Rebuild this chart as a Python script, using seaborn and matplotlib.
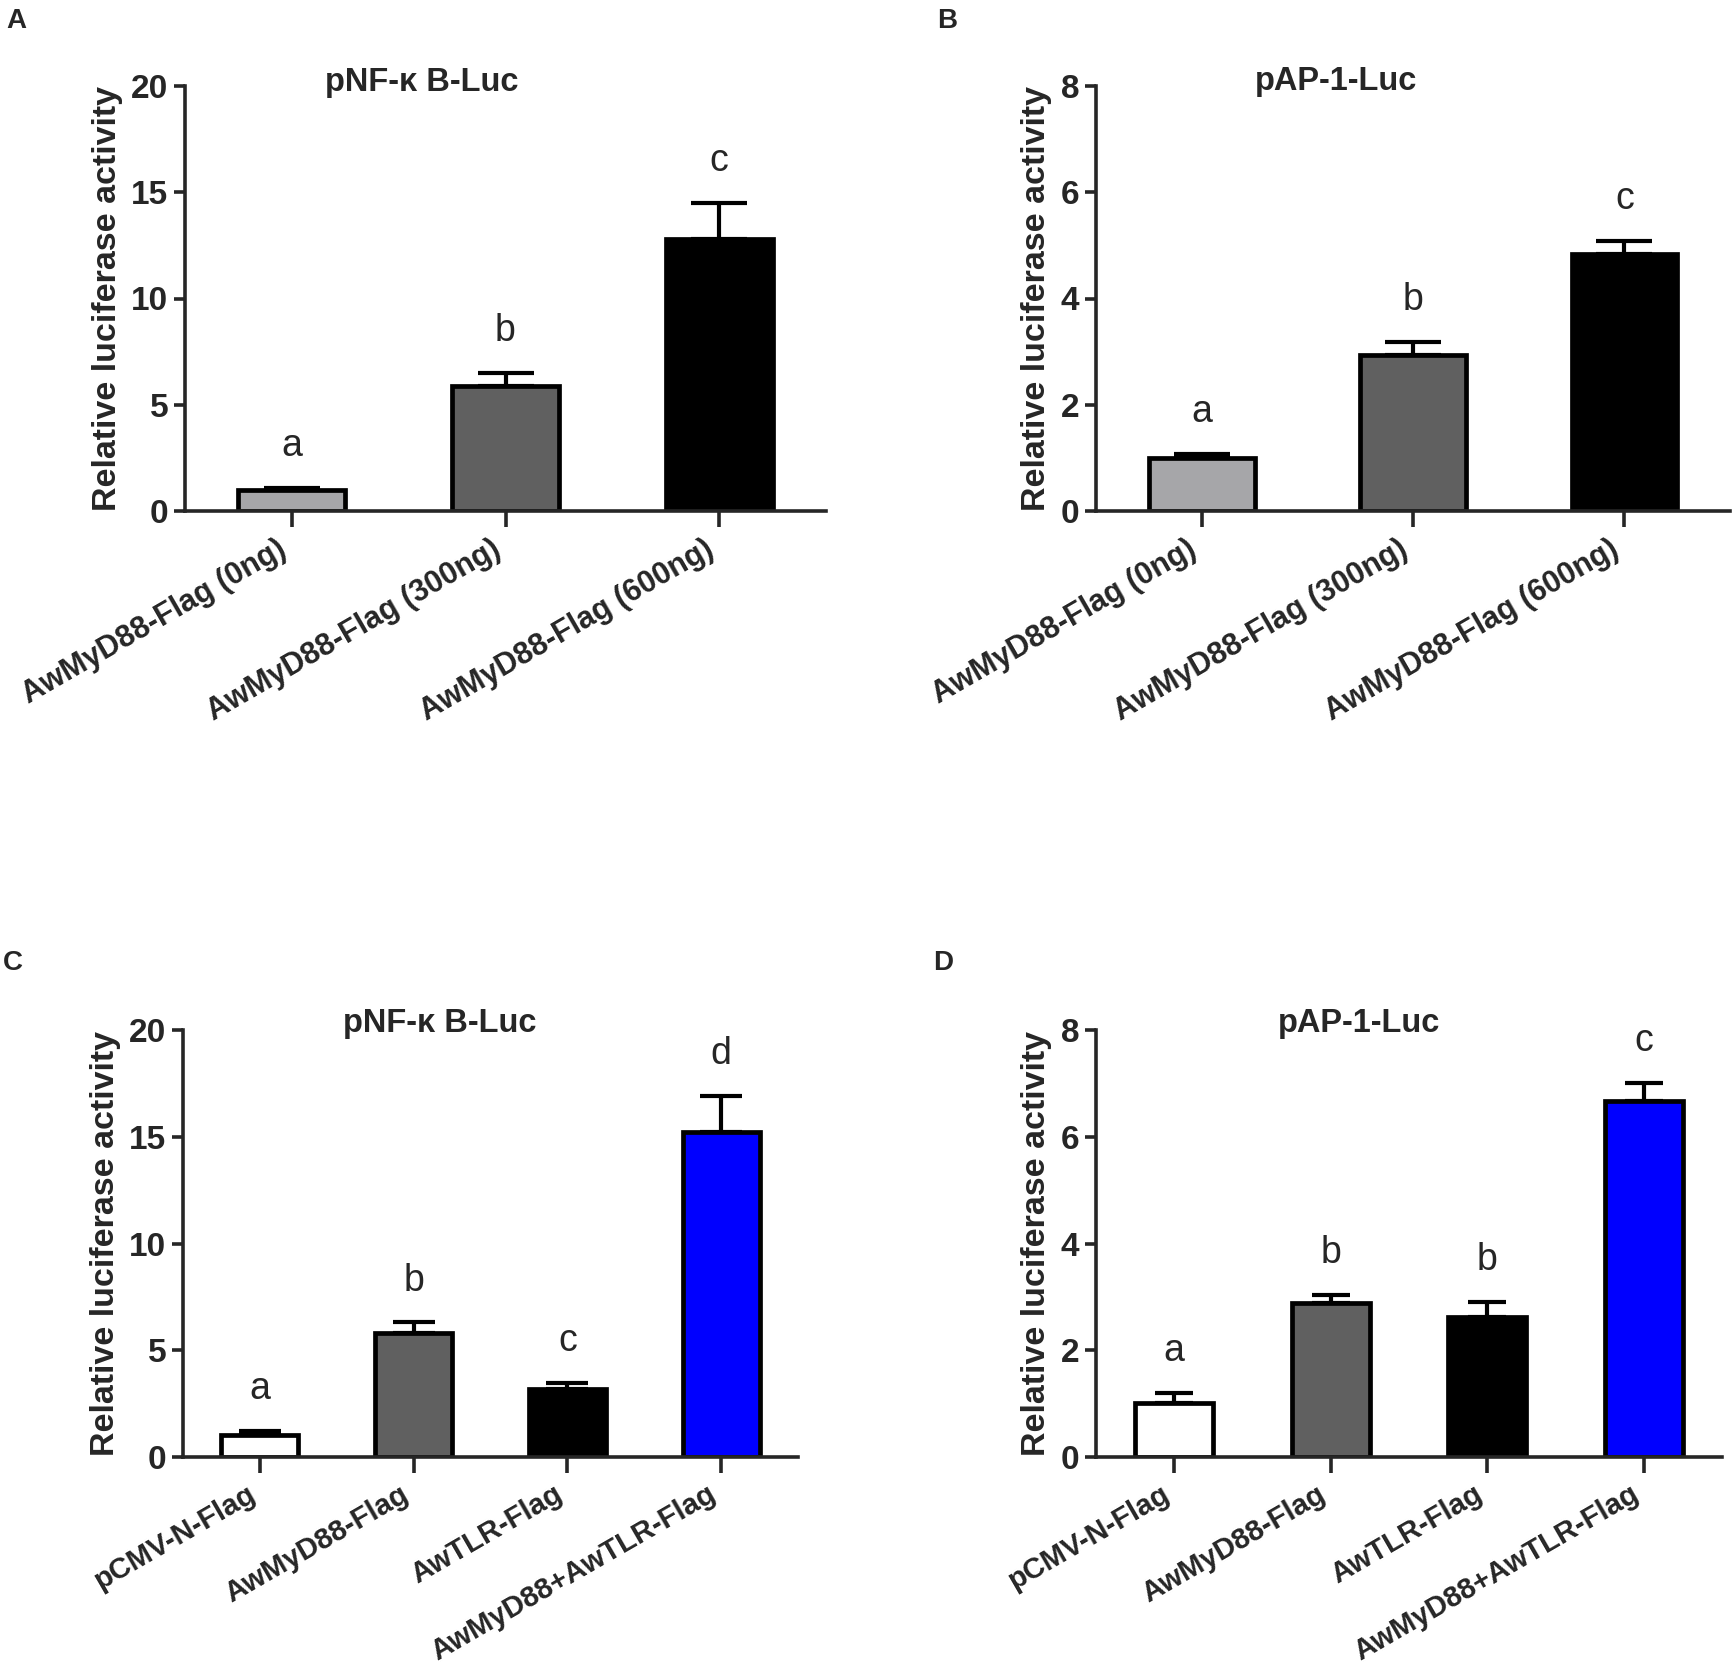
import matplotlib
matplotlib.use("Agg")
import matplotlib.pyplot as plt
import seaborn as sns
import pandas as pd

sns.set_style("ticks")
plt.rcParams['font.family'] = ['Liberation Sans', 'DejaVu Sans']

# ---------------- data ----------------
cats_top = ["AwMyD88-Flag (0ng)", "AwMyD88-Flag (300ng)", "AwMyD88-Flag (600ng)"]
cats_bot = ["pCMV-N-Flag", "AwMyD88-Flag", "AwTLR-Flag", "AwMyD88+AwTLR-Flag"]

a_mean = [1.0, 5.9, 12.8]
a_err = [0.1, 0.6, 1.7]
a_sig = ["a", "b", "c"]

b_mean = [1.0, 2.93, 4.84]
b_err = [0.08, 0.26, 0.24]
b_sig = ["a", "b", "c"]

c_mean = [1.04, 5.8, 3.2, 15.2]
c_err = [0.18, 0.5, 0.28, 1.7]
c_sig = ["a", "b", "c", "d"]

d_mean = [1.02, 2.88, 2.63, 6.67]
d_err = [0.18, 0.15, 0.28, 0.33]
d_sig = ["a", "b", "b", "c"]

titles = ["pNF-\u03ba B-Luc", "pAP-1-Luc", "pNF-\u03ba B-Luc", "pAP-1-Luc"]
panel_letters = ["A", "B", "C", "D"]
ylims = [20, 8, 20, 8]
yticks = [[0, 5, 10, 15, 20], [0, 2, 4, 6, 8], [0, 5, 10, 15, 20], [0, 2, 4, 6, 8]]

colors_top = ["#A6A6A9", "#606060", "#000000"]
colors_bot = ["#FFFFFF", "#606060", "#000000", "#0000FF"]

W, H = 1736, 1677
fig = plt.figure(figsize=(W / 100, H / 100), dpi=100)
fig.patch.set_facecolor("white")

def frac(l, r, t, b):
    return [l / W, 1 - b / H, (r - l) / W, (b - t) / H]

rects = [frac(185, 826, 86, 511), frac(1096, 1730, 86, 511),
         frac(183, 798, 1030, 1457), frac(1096, 1722, 1030, 1457)]
panel_pos = [(6, 8), (937, 8), (3, 950), (933, 950)]
title_x = [0.37, 0.378, 0.418, 0.42]
title_y = [1.008, 1.01, 1.016, 1.016]
rot = [30, 30, 30, 30]
xfs = [22, 22, 21, 21]
capsizes = [20, 20, 15, 14]

datasets = [
    (cats_top, a_mean, a_err, a_sig, colors_top),
    (cats_top, b_mean, b_err, b_sig, colors_top),
    (cats_bot, c_mean, c_err, c_sig, colors_bot),
    (cats_bot, d_mean, d_err, d_sig, colors_bot),
]

for i, (cats, means, errs, sigs, cols) in enumerate(datasets):
    ax = fig.add_axes(rects[i])
    df = pd.DataFrame({"cat": cats, "val": means})
    sns.barplot(data=df, x="cat", y="val", hue="cat", palette=cols, legend=False,
                saturation=1, width=0.5, edgecolor="black", linewidth=3.4, ax=ax, zorder=2)
    xs = list(range(len(cats)))
    ax.errorbar(xs, means, yerr=[[0] * len(errs), errs], fmt="none", ecolor="black",
                elinewidth=3.0, capsize=capsizes[i], capthick=3.0, zorder=1)
    for x, m, e, s in zip(xs, means, errs, sigs):
        ax.annotate(s, (x, m + e), xytext=(0, 23), textcoords="offset points",
                    ha="center", va="baseline", fontsize=27)
    ax.set_xlim(-0.5, len(cats) - 0.5)
    ax.set_ylim(0, ylims[i])
    ax.set_yticks(yticks[i])
    ax.set_yticklabels([str(t) for t in yticks[i]], fontsize=24, fontweight="bold")
    ax.set_xticks(xs)
    ax.set_xticklabels(cats, rotation=rot[i], ha="right", rotation_mode="default",
                       fontsize=xfs[i], fontweight="bold")
    ax.set_xlabel("")
    ax.set_ylabel("Relative luciferase activity", fontsize=24.5, fontweight="bold", labelpad=6)
    sns.despine(ax=ax)
    for sp in ["left", "bottom"]:
        ax.spines[sp].set_linewidth(2.6)
    ax.tick_params(axis="y", length=8, width=2.6, pad=4)
    ax.tick_params(axis="x", length=11.5, width=2.6, pad=5)
    ax.text(title_x[i], title_y[i], titles[i], transform=ax.transAxes, ha="center",
            va="center", fontsize=23.5, fontweight="bold")
    px, py = panel_pos[i]
    fig.text(px / W, 1 - py / H, panel_letters[i], ha="left", va="top",
             fontsize=20, fontweight="bold")

fig.savefig("out.png", dpi=100, facecolor="white")
